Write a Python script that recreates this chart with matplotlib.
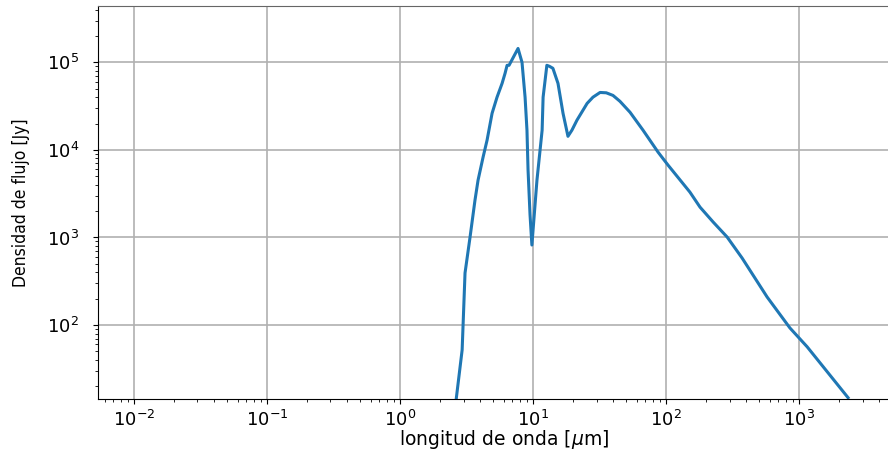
import matplotlib.pyplot as plt
import numpy as np

# longitud de onda [um] y densidad de flujo [Jy]
wl = [2.64, 2.93, 3.08, 3.36, 3.66, 3.86, 4.21, 4.51, 4.92, 5.36, 5.85, 6.16, 6.38, 6.6,
      7.71, 8.26, 8.71, 9.0, 9.17, 9.49, 9.8, 10.7, 11.7, 11.9, 12.7, 13.3, 14.1, 15.4,
      16.8, 18.3, 19.6, 21.4, 25.5, 28.2, 31.9, 35.5, 39.9, 45.0, 53.6, 67.1, 87.1,
      103.5, 151, 180, 226, 288, 373, 575, 853, 1150, 2335]
flux = [14.0, 52, 393, 1010, 2670, 4520, 8270, 12900, 26200, 40000, 57500, 75000, 92500, 92500,
        144000, 100000, 40000, 16800, 5900, 1820, 820, 4520, 16800, 40000, 92500, 90000, 85500, 57500,
        26200, 14300, 16800, 21900, 34000, 40000, 45300, 44900, 41900, 35900, 26900, 16800, 9420,
        6700, 3300, 2220, 1500, 1010, 582, 209, 92.7, 56.4, 14.8]
xticks = [1e-2, 1e-1, 1e0, 1e1, 1e2, 1e3]
yticks = [1e2, 1e3, 1e4, 1e5]

fig = plt.figure(figsize=(8.88, 4.5), dpi=100)
ax = fig.add_axes([98/888, 51/450, 804/888, 393/450])

ax.loglog(wl, flux, color='#1f77b4', linewidth=2.2)
ax.set_xlim(5.36e-3, 5.94e3)
ax.set_ylim(14.3, 4.4e5)
ax.set_xticks(xticks)
ax.set_yticks(yticks)
ax.grid(True, which='major', color='#b0b0b0', linewidth=1.2)

ax.spines['right'].set_visible(False)
ax.spines['top'].set_color('#666666')
ax.tick_params(labelsize=13)
ax.tick_params(axis='x', which='major', pad=4)
ax.tick_params(axis='y', which='major', pad=10)

ax.set_xlabel(r'longitud de onda [$\mu$m]', fontsize=13.5)
ax.xaxis.set_label_coords(0.505, -0.074)
ax.set_ylabel('Densidad de flujo [Jy]', fontsize=12.5, fontstretch='condensed',
              family=['Liberation Sans Narrow', 'DejaVu Sans Condensed', 'DejaVu Sans'])
ax.yaxis.set_label_coords(-0.085, 0.5)

fig.savefig('out.png', dpi=100)
